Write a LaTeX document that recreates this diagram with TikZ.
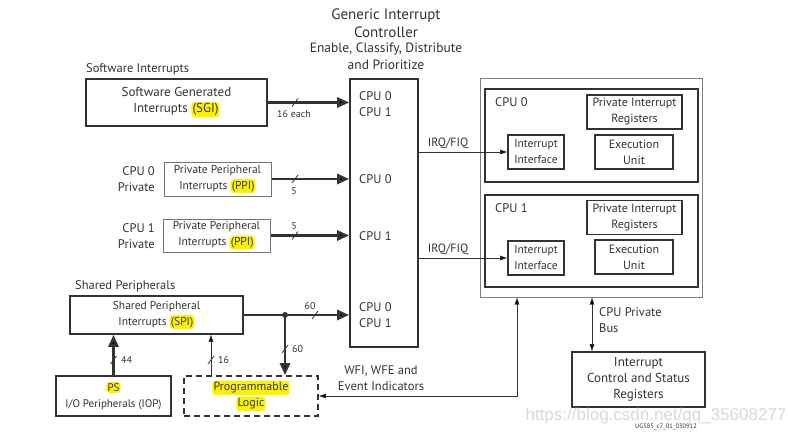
\documentclass[tikz,border=0pt]{standalone}
\usepackage{fontspec}
\setmainfont{PT Sans}
\newfontfamily\wmfont{Liberation Sans}
\usetikzlibrary{arrows.meta}
\definecolor{ink}{HTML}{333333}
\definecolor{hly}{HTML}{FFF200}
\definecolor{wm}{HTML}{D9D9D9}
\newcommand{\hlt}[1]{\tikz[baseline=(hh.base)]\node[fill=hly,draw=none,solid,minimum width=0pt,minimum height=0pt,rounded corners=3.5pt,inner xsep=1.2pt,inner ysep=1.6pt,anchor=base,outer sep=0pt](hh){#1};}
\newcommand{\fs}[1]{\fontsize{#1}{16}\selectfont}
\tikzset{
  bigbox/.style={draw=ink,line width=1.6pt,inner sep=0pt,align=center,text=ink,font=\fs{11.5}},
  ppibox/.style={draw=black!55,line width=1pt,inner sep=0pt,align=center,text=ink,font=\fs{11.5}},
  outerbox/.style={draw=black!50,line width=1pt,inner sep=0pt},
  plbox/.style={draw=ink,line width=1.6pt,dash pattern=on 6pt off 4pt,inner sep=0pt,align=center,text=ink,font=\fs{12}},
  lbl/.style={text=ink,inner sep=0pt,font=\fs{12.5}},
  small/.style={text=ink,inner sep=0pt,font=\fs{10}},
  thickarrow/.style={draw=ink,line width=2.6pt,-{Triangle[length=12pt,width=10pt]}},
  thinarrow/.style={draw=ink,line width=0.8pt,-{Triangle[length=7pt,width=4.5pt]}},
  dblarrow/.style={draw=ink,line width=0.8pt,{Triangle[length=7pt,width=4.5pt]}-{Triangle[length=7pt,width=4.5pt]}},
  tick/.style={draw=ink,line width=0.8pt}
}
\begin{document}
\begin{tikzpicture}[x=1pt,y=-1pt]
\useasboundingbox[fill=white] (0,0) rectangle (788,436);

% title
\node[lbl,font=\fs{15}] (t1) at (386,16) {Generic Interrupt};
\node[lbl,font=\fs{15}] (t2) at (386,32) {Controller};
\node[lbl,font=\fs{13.5}] (t3) at (386,49) {Enable, Classify, Distribute};
\node[lbl,font=\fs{13.5}] (t4) at (386,65) {and Prioritize};

% GIC
\node[bigbox,minimum width=68pt,minimum height=268pt] (gic) at (384,213) {};
\node[lbl,anchor=west] (g1) at (359,96) {CPU 0};
\node[lbl,anchor=west] (g2) at (359,112) {CPU 1};
\node[lbl,anchor=west] (g3) at (359,179) {CPU 0};
\node[lbl,anchor=west] (g4) at (359,236) {CPU 1};
\node[lbl,anchor=west] (g5) at (359,307) {CPU 0};
\node[lbl,anchor=west] (g6) at (359,323) {CPU 1};

% SGI
\node[lbl,anchor=west] (swi) at (86,69) {Software Interrupts};
\node[bigbox,font=\fs{13},minimum width=181pt,minimum height=47pt] (sgi) at (176.5,102.5) {Software Generated\\Interrupts \hlt{(SGI)}};
\draw[thickarrow] (sgi.east) -- (gic.west |- sgi.east);
\coordinate (s1) at (295,102.5);
\draw[tick] ([shift={(-3,4)}]s1) -- ([shift={(3,-4)}]s1);
\node[small] (n16) at (294,114) {16 each};

% PPI 0
\node[lbl,anchor=east,align=right] (c0p) at (155,179) {CPU 0\\Private};
\node[ppibox,minimum width=107pt,minimum height=34pt] (ppi0) at (217.5,179) {Private Peripheral\\Interrupts \hlt{(PPI)}};
\draw[thickarrow] (ppi0.east) -- (gic.west |- ppi0.east);
\coordinate (s2) at (295,179);
\draw[tick] ([shift={(-3,4)}]s2) -- ([shift={(3,-4)}]s2);
\node[small] (n5a) at (294,191) {5};

% PPI 1
\node[lbl,anchor=east,align=right] (c1p) at (155,236) {CPU 1\\Private};
\node[ppibox,minimum width=107pt,minimum height=33pt] (ppi1) at (216.5,235.5) {Private Peripheral\\Interrupts \hlt{(PPI)}};
\draw[thickarrow] (ppi1.east) -- (gic.west |- ppi1.east);
\coordinate (s3) at (295,235.5);
\draw[tick] ([shift={(-3,4)}]s3) -- ([shift={(3,-4)}]s3);
\node[small] (n5b) at (294,226) {5};

% SPI
\node[lbl,anchor=west] (shp) at (75,286) {Shared Peripherals};
\node[bigbox,minimum width=173pt,minimum height=38pt] (spi) at (156.5,315) {Shared Peripheral\\Interrupts \hlt{(SPI)}};
\coordinate (j) at (285,315);
\draw[thickarrow] (spi.east) -- (gic.west |- spi.east);
\fill[ink] (j) circle (3pt);
\coordinate (s4) at (315,315);
\draw[tick] ([shift={(-3,4)}]s4) -- ([shift={(3,-4)}]s4);
\node[small] (n60a) at (310,306) {60};

% PS and PL
\node[bigbox,font=\fs{11},minimum width=115pt,minimum height=40pt] (ps) at (113.5,396) {\hlt{PS}\\I/O Peripherals (IOP)};
\node[plbox,minimum width=134pt,minimum height=40pt] (pl) at (251,396) {\hlt{Programmable}\\\hlt{Logic}};

\draw[thickarrow] (j) -- (j |- pl.north);
\coordinate (s5) at (285,349);
\draw[tick] ([shift={(-3,4)}]s5) -- ([shift={(3,-4)}]s5);
\node[small,anchor=west] (n60b) at (292,349) {60};

\draw[thickarrow] (ps.north) -- (ps.north |- spi.south);
\coordinate (s6) at (113.5,360);
\draw[tick] ([shift={(-3,4)}]s6) -- ([shift={(3,-4)}]s6);
\node[small,anchor=west] (n44) at (121,360) {44};

\coordinate (px) at (211,0);
\draw[thinarrow] (pl.north -| px) -- (spi.south -| px);
\coordinate (s7) at (211,360);
\draw[tick] ([shift={(-3,4)}]s7) -- ([shift={(3,-4)}]s7);
\node[small,anchor=west] (n16b) at (218,360) {16};

% CPU cluster
\node[outerbox,minimum width=222pt,minimum height=218pt] (outer) at (591,188) {};
\node[bigbox,minimum width=213pt,minimum height=93pt] (cpu0) at (591.5,135.5) {};
\node[bigbox,minimum width=213pt,minimum height=92pt] (cpu1) at (591.5,241) {};
\node[lbl,anchor=west] (l0) at (495,102) {CPU 0};
\node[lbl,anchor=west] (l1) at (495,208) {CPU 1};

\node[bigbox,font=\fs{12},minimum width=95pt,minimum height=34pt] (pir0) at (634.5,112) {Private Interrupt\\Registers};
\node[bigbox,minimum width=56pt,minimum height=34pt] (ii0) at (536,152) {Interrupt\\Interface};
\node[bigbox,font=\fs{12},minimum width=78pt,minimum height=34pt] (ex0) at (634,152) {Execution\\Unit};

\node[bigbox,font=\fs{12},minimum width=95pt,minimum height=34pt] (pir1) at (634.5,217.5) {Private Interrupt\\Registers};
\node[bigbox,minimum width=56pt,minimum height=34pt] (ii1) at (536,258) {Interrupt\\Interface};
\node[bigbox,font=\fs{12},minimum width=78pt,minimum height=34pt] (ex1) at (634,257) {Execution\\Unit};

\draw[thinarrow] (gic.east |- ii0.west) -- (ii0.west);
\node[small,font=\fs{12}] (irq0) at (448,143) {IRQ/FIQ};
\draw[thinarrow] (gic.east |- ii1.west) -- (ii1.west);
\node[small,font=\fs{12}] (irq1) at (448,249) {IRQ/FIQ};

% ICSR
\node[bigbox,font=\fs{13},minimum width=133pt,minimum height=55pt] (icsr) at (638.5,379.5) {Interrupt\\Control and Status\\Registers};
\coordinate (bx) at (592,0);
\draw[dblarrow] (outer.south -| bx) -- (icsr.north -| bx);
\node[lbl,anchor=west,align=left] (bus) at (599,320) {CPU Private\\Bus};

% WFI
\coordinate (wx) at (517,0);
\draw[dblarrow] (pl.east) -| (outer.south -| wx);
\node[lbl,align=center] (wfi) at (381,378) {WFI, WFE and\\Event Indicators};

% watermark
\node[text=wm,inner sep=0pt,font=\wmfont\fontsize{17}{17}\selectfont] (wmk) at (656,416) {https://blog.csdn.net/qq\_35608277};
\node[text=ink,inner sep=0pt,font=\fontsize{6.5}{7}\selectfont] (ug) at (666,427) {UG585\_c7\_01\_030912};
\end{tikzpicture}
\end{document}
